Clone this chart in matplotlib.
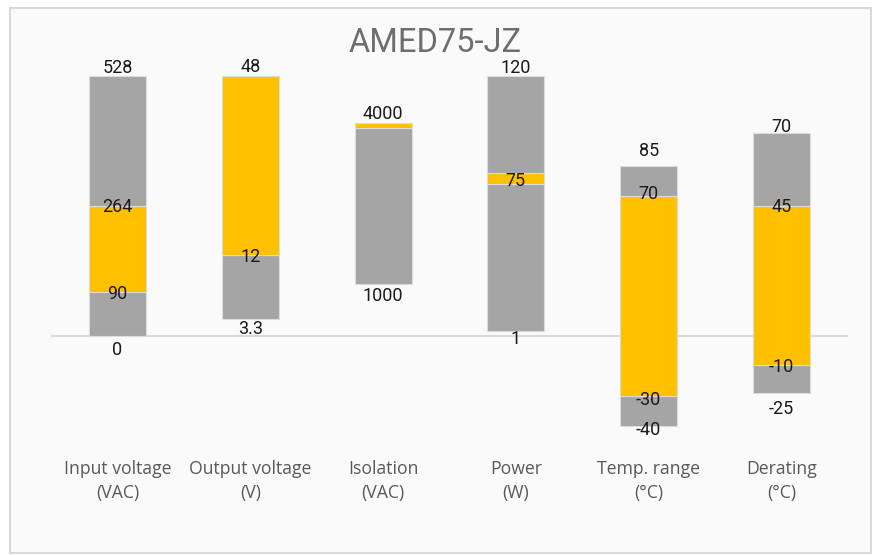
import matplotlib
matplotlib.use("Agg")
import matplotlib.pyplot as plt
import matplotlib.transforms as mtransforms
from matplotlib.patches import Rectangle

# categories and plotted bounds (each column is drawn on its own scale, 100 = column top)
categories = ["Input voltage\n(VAC)", "Output voltage\n(V)", "Isolation\n(VAC)",
              "Power\n(W)", "Temp. range\n(°C)", "Derating\n(°C)"]
bottom = [0.0, 6.2, 19.8, 1.6, -34.7, -22.2]
low = [16.8, 31.0, 79.9, 58.3, -23.2, -11.3]    # start of highlighted band
high = [49.8, 99.8, 81.8, 62.4, 53.8, 49.8]     # end of highlighted band
top = [100.0, 99.8, 81.8, 99.9, 65.3, 77.8]

# data labels: text, which bound it sits on
labels = [
    [("0", "bottom"), ("90", "low"), ("264", "high"), ("528", "top")],
    [("3.3", "bottom"), ("12", "low"), ("48", "top")],
    [("1000", "bottom"), ("4000", "top")],
    [("1", "bottom"), ("75", "mid"), ("120", "top")],
    [("-40", "bottom"), ("-30", "low"), ("70", "high"), ("85", "top")],
    [("-25", "bottom"), ("-10", "low"), ("45", "high"), ("70", "top")],
]
# vertical nudge of each label in pixels (style only)
nudges = [
    [-14, -2, -1, 8],
    [-10, -2, 9],
    [-12, 9],
    [-8, -2, 8],
    [-4, -4, 2, 15],
    [-16, -2, -1, 6],
]

GRAY = "#a5a5a5"
GOLD = "#ffc000"

W, H = 877, 555
fig = plt.figure(figsize=(W / 100, H / 100), dpi=100)
fig.patch.set_facecolor("white")
frame = Rectangle((10 / W, 1 - 553 / H), 861 / W, 545 / H,
                  transform=fig.transFigure, facecolor="#fafafa",
                  edgecolor="#d9d9d9", linewidth=1.5, zorder=-10)
fig.patches.append(frame)

ax = fig.add_axes([51 / W, 1 - 445 / H, 797 / W, 385 / H])
ax.set_zorder(1)
ax.set_facecolor("none")
ax.set_xlim(-0.5, 5.5)
ax.set_ylim(-42.1, 106)
for s in ax.spines.values():
    s.set_visible(False)
ax.set_xticks([])
ax.set_yticks([])

ax.axhline(0, color="#d9d9d9", linewidth=1.5, zorder=1)

x = list(range(len(categories)))
bw = 0.43
ec = dict(edgecolor="#dcdcdc", linewidth=0.8)
for i in x:
    ax.bar(i, low[i] - bottom[i], bottom=bottom[i], width=bw, color=GRAY, zorder=2, **ec)
    ax.bar(i, high[i] - low[i], bottom=low[i], width=bw, color=GOLD, zorder=2, **ec)
    if top[i] > high[i]:
        ax.bar(i, top[i] - high[i], bottom=high[i], width=bw, color=GRAY, zorder=2, **ec)

for i in x:
    where = {"bottom": bottom[i], "low": low[i], "high": high[i], "top": top[i],
             "mid": (low[i] + high[i]) / 2}
    for (txt, key), dy in zip(labels[i], nudges[i]):
        ax.annotate(txt, (i, where[key]), xytext=(0, dy), textcoords="offset pixels",
                    ha="center", va="center", fontsize=13, family="Roboto",
                    color="#1a1a1a", zorder=3, annotation_clip=False)

blend = mtransforms.blended_transform_factory(ax.transData, fig.transFigure)
for i, c in zip(x, categories):
    ax.text(i, 1 - 481 / H, c, transform=blend, ha="center", va="center",
            fontsize=12.7, family="Open Sans", color="#595959", linespacing=1.42,
            clip_on=False)

fig.text(435 / W, 1 - 43 / H, "AMED75-JZ", ha="center", va="center",
         fontsize=23.5, family="Roboto", color="#6e6e6e")

fig.savefig("out.png", dpi=100)
